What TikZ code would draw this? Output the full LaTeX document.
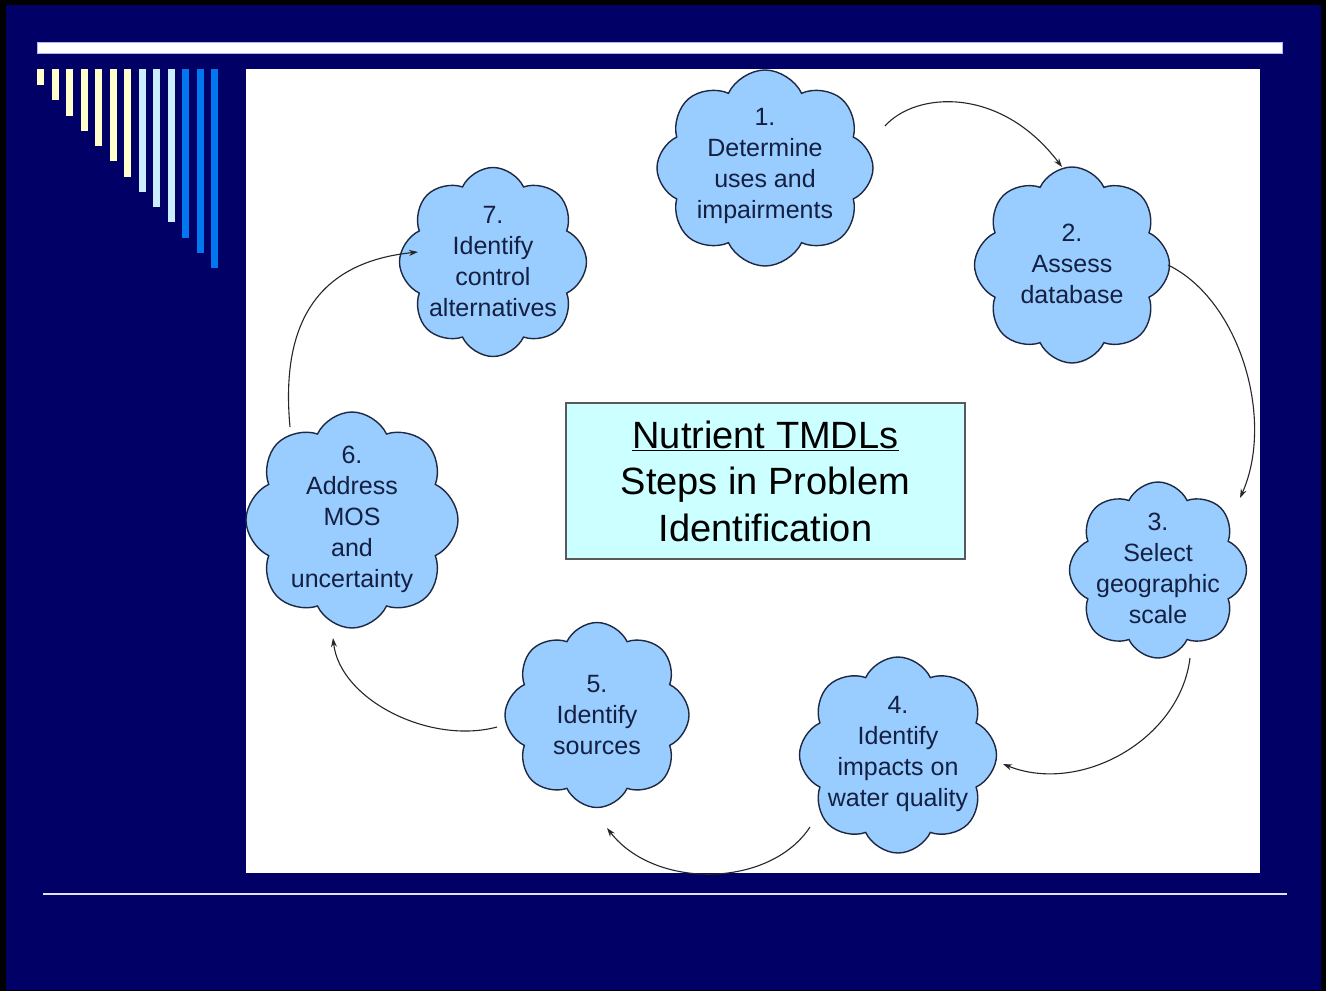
\documentclass[tikz,border=0pt]{standalone}
\usepackage{fontspec}
\setmainfont{Liberation Sans}
\usetikzlibrary{shapes.symbols,arrows.meta,calc}
\definecolor{slidenavy}{RGB}{0,0,102}
\definecolor{cloudblue}{RGB}{153,204,255}
\definecolor{cloudline}{RGB}{30,40,65}
\definecolor{cloudtext}{RGB}{20,32,65}
\definecolor{boxcyan}{RGB}{204,255,255}
\definecolor{stripeyellow}{RGB}{255,255,204}
\definecolor{stripepale}{RGB}{204,236,255}
\definecolor{stripeblue}{RGB}{0,119,238}

\begin{document}
\begin{tikzpicture}[x=1pt,y=-1pt,
    stepcloud/.style={cloud,cloud puffs=8,cloud puff arc=130,aspect=1,draw=cloudline,line width=1.4pt,fill=cloudblue,inner sep=0pt},
    steptext/.style={align=center,text=cloudtext,font=\fontsize{25}{31}\selectfont},
    flow/.style={-{Stealth[length=9pt,width=6pt]},line width=1.1pt,draw=black!85}
]
    % Slide frame and background
    \fill[black] (0,0) rectangle (1326,991);
    \fill[slidenavy] (6,5) rectangle (1321,990);
    \filldraw[fill=white,draw=blue!30!white,line width=1pt] (37,42) rectangle (1282,53);
    \foreach \c [count=\i from 0] in {stripeyellow,stripeyellow,stripeyellow,stripeyellow,stripeyellow,stripeyellow,stripeyellow,stripepale,stripepale,stripepale,stripeblue,stripeblue,stripeblue}
        \fill[\c] (37+\i*14.5,69) rectangle (44+\i*14.5,85+\i*15.25);
    \draw[white!88!blue,line width=2pt] (43,894) -- (1287,894);
    \fill[white] (246,69) rectangle (1260,873);

    % Title box
    \node[draw=black!65,line width=1.3pt,fill=boxcyan,minimum width=399pt,minimum height=156pt,align=center,
          font=\fontsize{38}{46.5}\selectfont] (title) at (765.5,481)
        {\underline{Nutrient TMDLs}\\Steps in Problem\\Identification};

    % Step clouds
    \node[stepcloud,minimum width=216pt,minimum height=196pt,shape border rotate=8] (c1) at (765,168) {};
    \node[stepcloud,minimum width=195pt,minimum height=196pt,shape border rotate=20] (c2) at (1072,265) {};
    \node[stepcloud,minimum width=177pt,minimum height=176pt,shape border rotate=12] (c3) at (1158,570) {};
    \node[stepcloud,minimum width=197pt,minimum height=196pt,shape border rotate=25] (c4) at (898,755) {};
    \node[stepcloud,minimum width=184pt,minimum height=185pt,shape border rotate=15] (c5) at (597,715) {};
    \node[stepcloud,minimum width=212pt,minimum height=216pt,shape border rotate=5] (c6) at (352,520) {};
    \node[stepcloud,minimum width=187pt,minimum height=189pt,shape border rotate=30] (c7) at (493,262) {};

    % Step labels
    \node[steptext] (t1) at (765,166) {1.\\Determine\\uses and\\impairments};
    \node[steptext] (t2) at (1072,264) {2.\\Assess\\database};
    \node[steptext] (t3) at (1158,568) {3.\\Select\\geographic\\scale};
    \node[steptext] (t4) at (898,754) {4.\\Identify\\impacts on\\water quality};
    \node[steptext] (t5) at (597,715) {5.\\Identify\\sources};
    \node[steptext] (t6) at (352,519) {6.\\Address\\MOS\\and\\uncertainty};
    \node[steptext] (t7) at (493,262) {7.\\Identify\\control\\alternatives};

    % Cycle arrows
    \draw[flow] ($(c1)+(120,-42)$) .. controls ($(c1)+(150,-76)$) and ($(c2)+(-72,-180)$) .. ($(c2)+(-10,-98)$);
    \draw[flow] ($(c2)+(96,0)$) .. controls ($(c2)+(168,35)$) and ($(c3)+(117,-150)$) .. ($(c3)+(82,-72)$);
    \draw[flow] ($(c3)+(32,88)$) .. controls ($(c3)+(22,170)$) and ($(c4)+(182,40)$) .. ($(c4)+(105,9)$);
    \draw[flow] ($(c4)+(-88,72)$) .. controls ($(c4)+(-128,133)$) and ($(c5)+(58,175)$) .. ($(c5)+(10,113)$);
    \draw[flow] ($(c5)+(-100,12)$) .. controls ($(c5)+(-167,30)$) and ($(c6)+(-12,180)$) .. ($(c6)+(-19,118)$);
    \draw[flow] ($(c6)+(-62,-93)$) .. controls ($(c6)+(-72,-200)$) and ($(c7)+(-173,0)$) .. ($(c7)+(-75,-10)$);
\end{tikzpicture}
\end{document}
